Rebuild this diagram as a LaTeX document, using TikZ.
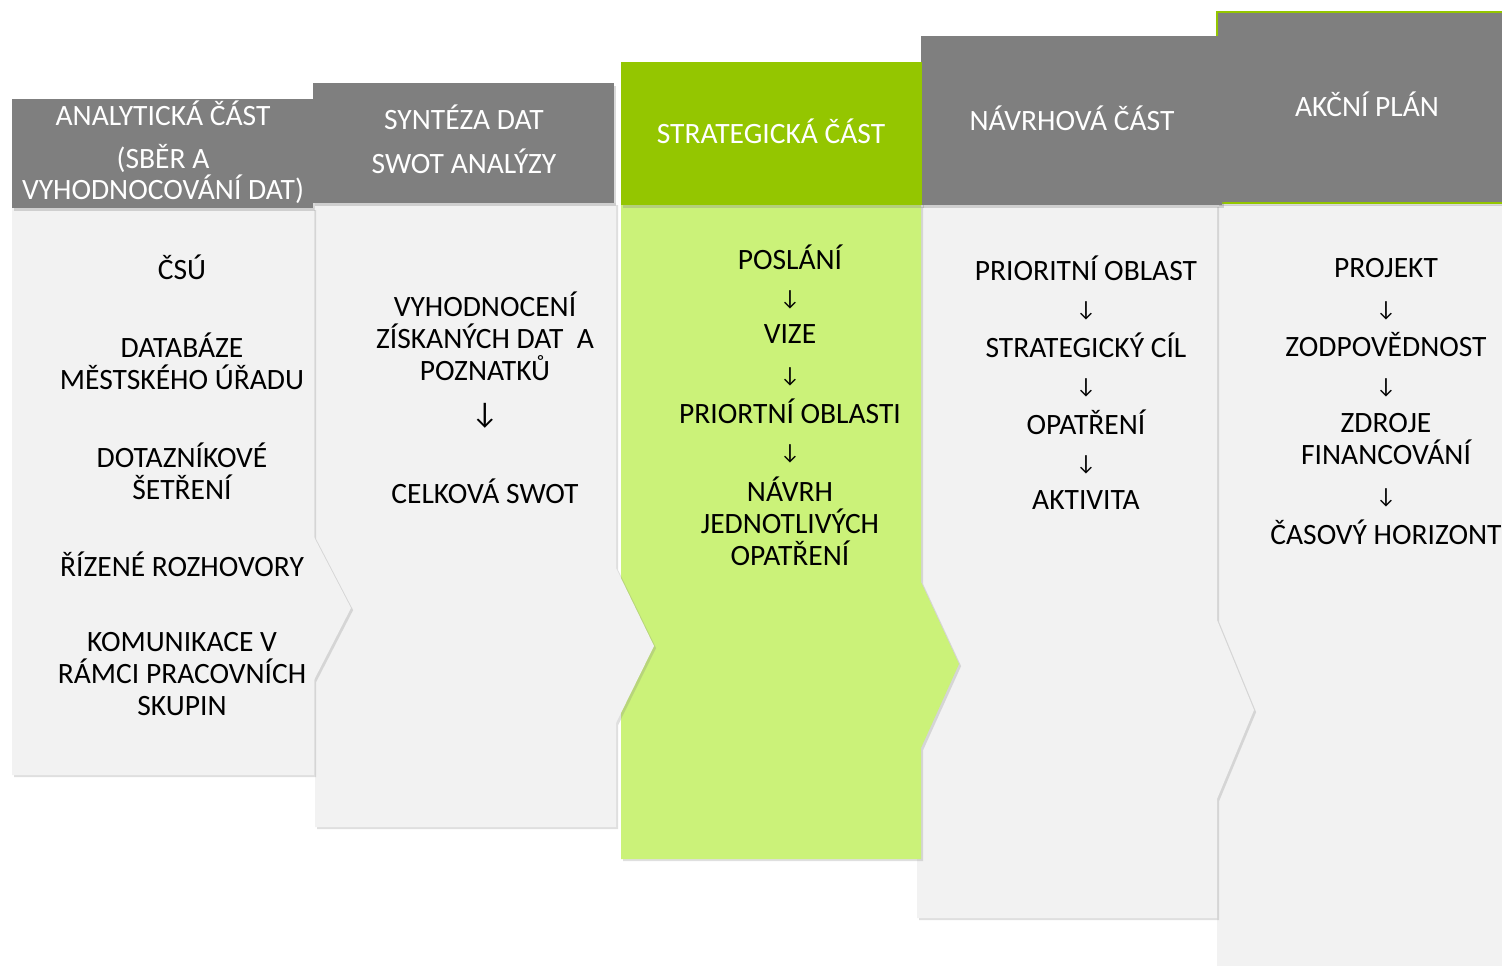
\documentclass[tikz,border=0pt]{standalone}
\usepackage{fontspec}
\setmainfont{Carlito}
\newfontfamily\arrowfont{Carlito}
\usetikzlibrary{shadows}
\definecolor{hdrgray}{HTML}{7F7F7F}
\definecolor{bodygray}{HTML}{F2F2F2}
\definecolor{hdrgreen}{HTML}{94C600}
\definecolor{bodygreen}{HTML}{CBF279}
\tikzset{
  bodyshape/.style={fill=bodygray, drop shadow={opacity=0.25, shadow xshift=1.2pt, shadow yshift=-1.2pt}},
  greenbody/.style={fill=bodygreen, drop shadow={opacity=0.25, shadow xshift=1.2pt, shadow yshift=-1.2pt}},
  hdrbox/.style={fill=hdrgray, drop shadow={opacity=0.3, shadow xshift=1.2pt, shadow yshift=-1.6pt}},
  greenhdr/.style={fill=hdrgreen, drop shadow={opacity=0.3, shadow xshift=1.2pt, shadow yshift=-1.6pt}},
  hdrtext/.style={text=white, align=center, inner sep=0pt, font=\fontsize{16.8}{18.1}\selectfont},
  bodytext/.style={text=black, align=center, inner sep=0pt, font=\fontsize{16.8}{18.1}\selectfont},
  arr/.style={text=black, inner sep=0pt, font=\arrowfont\fontsize{12.5}{14}\selectfont},
  bigarr/.style={text=black, inner sep=0pt, font=\arrowfont\fontsize{17}{19}\selectfont},
}
\begin{document}
\begin{tikzpicture}[x=0.02cm, y=-0.02cm]
\useasboundingbox (0,0) rectangle (1502,966);
\clip (0,0) rectangle (1502,966);
% column 5
\path[bodyshape] (1217,205) -- (1502,205) -- (1502,966) -- (1217,966) -- cycle;
\path[hdrbox, draw=hdrgreen, line width=1.2pt] (1217,12) rectangle (1505,203);
% column 4
\path[bodyshape] (917,205) -- (1217,205) -- (1217,620) -- (1254,710) -- (1217,799) -- (1217,918) -- (917,918) -- cycle;
\path[hdrbox] (921,36) rectangle (1222,205);
% column 3
\path[greenbody] (621,205) -- (921,205) -- (921,582) -- (959,664) -- (921,748) -- (921,859) -- (621,859) -- cycle;
\path[greenhdr] (621,62) rectangle (922,205);
% column 2
\path[bodyshape] (315,203) -- (616,203) -- (616,568) -- (654,646) -- (616,723) -- (616,827) -- (315,827) -- cycle;
\path[hdrbox] (313,83) rectangle (614,203);
% column 1
\path[bodyshape] (12,208) -- (314,208) -- (314,537) -- (351,608) -- (314,680) -- (314,775) -- (12,775) -- cycle;
\path[hdrbox] (12,99) rectangle (313,208);

% header texts
\node[hdrtext] (h1a) at (163,113) {ANALYTICKÁ ČÁST};
\node[hdrtext] (h1b) at (163,174) {(SBĚR A\\VYHODNOCOVÁNÍ DAT)};
\node[hdrtext] (h2a) at (464,117) {SYNTÉZA DAT};
\node[hdrtext] (h2b) at (464,161) {SWOT ANALÝZY};
\node[hdrtext] (h3) at (771,131) {STRATEGICKÁ ČÁST};
\node[hdrtext] (h4) at (1072,118) {NÁVRHOVÁ ČÁST};
\node[hdrtext] (h5) at (1367,104) {AKČNÍ PLÁN};

% column 1 body
\node[bodytext] (c1a) at (182,267) {ČSÚ};
\node[bodytext] (c1b) at (182,361) {DATABÁZE\\MĚSTSKÉHO ÚŘADU};
\node[bodytext] (c1c) at (182,471) {DOTAZNÍKOVÉ\\ŠETŘENÍ};
\node[bodytext] (c1d) at (182,564) {ŘÍZENÉ ROZHOVORY};
\node[bodytext] (c1e) at (182,674) {KOMUNIKACE V\\RÁMCI PRACOVNÍCH\\SKUPIN};

% column 2 body
\node[bodytext] (c2a) at (485,336) {VYHODNOCENÍ\\ZÍSKANÝCH DAT\ \ A\\POZNATKŮ};
\node[bigarr] (c2arr) at (485,416) {↓};
\node[bodytext] (c2b) at (485,491) {CELKOVÁ SWOT};

% column 3 body
\node[bodytext] (c3a) at (790,257) {POSLÁNÍ};
\node[arr] (c3r1) at (790,300) {↓};
\node[bodytext] (c3b) at (790,334) {VIZE};
\node[arr] (c3r2) at (790,377) {↓};
\node[bodytext] (c3c) at (790,411) {PRIORTNÍ OBLASTI};
\node[arr] (c3r3) at (790,454) {↓};
\node[bodytext] (c3d) at (790,521) {NÁVRH\\JEDNOTLIVÝCH\\OPATŘENÍ};

% column 4 body
\node[bodytext] (c4a) at (1086,268) {PRIORITNÍ OBLAST};
\node[arr] (c4r1) at (1086,311) {↓};
\node[bodytext] (c4b) at (1086,345) {STRATEGICKÝ CÍL};
\node[arr] (c4r2) at (1086,388) {↓};
\node[bodytext] (c4c) at (1086,422) {OPATŘENÍ};
\node[arr] (c4r3) at (1086,465) {↓};
\node[bodytext] (c4d) at (1086,500) {AKTIVITA};

% column 5 body
\node[bodytext] (c5a) at (1386,268) {PROJEKT};
\node[arr] (c5r1) at (1386,311) {↓};
\node[bodytext] (c5b) at (1386,345) {ZODPOVĚDNOST};
\node[arr] (c5r2) at (1386,388) {↓};
\node[bodytext] (c5c) at (1386,439) {ZDROJE\\FINANCOVÁNÍ};
\node[arr] (c5r3) at (1386,498) {↓};
\node[bodytext] (c5d) at (1386,532) {ČASOVÝ HORIZONT};
\end{tikzpicture}
\end{document}
